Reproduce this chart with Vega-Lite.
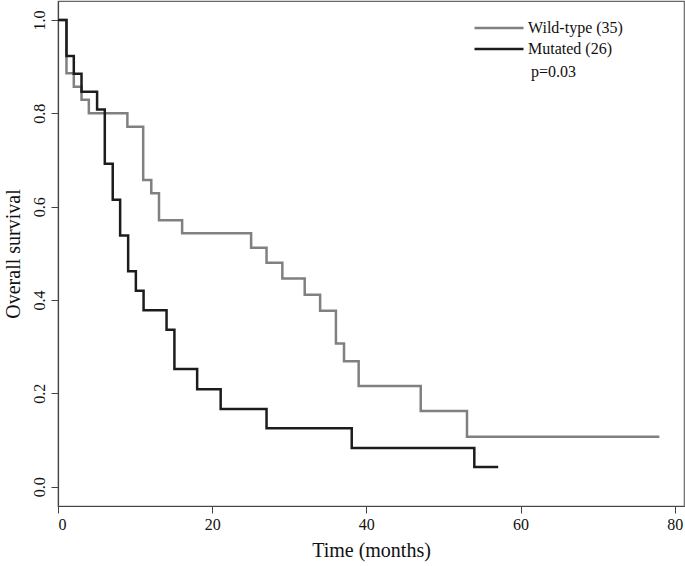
{
  "$schema": "https://vega.github.io/schema/vega-lite/v6.json",
  "autosize": {"type": "none"},
  "padding": {"left": 58, "top": 1, "right": 1, "bottom": 60},
  "width": 626,
  "height": 505,
  "background": "white",
  "config": {
    "view": {"stroke": "#666666", "strokeWidth": 1.2},
    "font": "Liberation Serif",
    "axis": {
      "grid": false,
      "domainColor": "#444444",
      "domainWidth": 1.2,
      "tickColor": "#444444",
      "tickSize": 7,
      "labelFont": "Liberation Serif",
      "labelFontSize": 16,
      "labelColor": "#111111",
      "titleFont": "Liberation Serif",
      "titleFontSize": 20,
      "titleFontWeight": "normal",
      "titleColor": "#111111"
    }
  },
  "data": {
    "values": [
      {"group": "Wild-type (35)", "month": 0, "surv": 1.0},
      {"group": "Wild-type (35)", "month": 1.1, "surv": 0.886},
      {"group": "Wild-type (35)", "month": 2.05, "surv": 0.857},
      {"group": "Wild-type (35)", "month": 3.05, "surv": 0.829},
      {"group": "Wild-type (35)", "month": 4.0, "surv": 0.8},
      {"group": "Wild-type (35)", "month": 9.0, "surv": 0.771},
      {"group": "Wild-type (35)", "month": 11.05, "surv": 0.657},
      {"group": "Wild-type (35)", "month": 12.1, "surv": 0.629},
      {"group": "Wild-type (35)", "month": 13.1, "surv": 0.571},
      {"group": "Wild-type (35)", "month": 16.1, "surv": 0.543},
      {"group": "Wild-type (35)", "month": 25.05, "surv": 0.512},
      {"group": "Wild-type (35)", "month": 27.05, "surv": 0.48},
      {"group": "Wild-type (35)", "month": 29.1, "surv": 0.446},
      {"group": "Wild-type (35)", "month": 32.0, "surv": 0.411},
      {"group": "Wild-type (35)", "month": 34.0, "surv": 0.377},
      {"group": "Wild-type (35)", "month": 36.05, "surv": 0.307},
      {"group": "Wild-type (35)", "month": 37.1, "surv": 0.269},
      {"group": "Wild-type (35)", "month": 39.0, "surv": 0.216},
      {"group": "Wild-type (35)", "month": 47.05, "surv": 0.162},
      {"group": "Wild-type (35)", "month": 53.05, "surv": 0.107},
      {"group": "Wild-type (35)", "month": 78.0, "surv": 0.107},
      {"group": "Mutated (26)", "month": 0, "surv": 1.0},
      {"group": "Mutated (26)", "month": 1.1, "surv": 0.923},
      {"group": "Mutated (26)", "month": 2.05, "surv": 0.885},
      {"group": "Mutated (26)", "month": 3.05, "surv": 0.846},
      {"group": "Mutated (26)", "month": 5.07, "surv": 0.808},
      {"group": "Mutated (26)", "month": 6.07, "surv": 0.692},
      {"group": "Mutated (26)", "month": 7.1, "surv": 0.615},
      {"group": "Mutated (26)", "month": 8.06, "surv": 0.538},
      {"group": "Mutated (26)", "month": 9.1, "surv": 0.4615},
      {"group": "Mutated (26)", "month": 10.1, "surv": 0.42},
      {"group": "Mutated (26)", "month": 11.1, "surv": 0.378},
      {"group": "Mutated (26)", "month": 14.08, "surv": 0.336},
      {"group": "Mutated (26)", "month": 15.1, "surv": 0.252},
      {"group": "Mutated (26)", "month": 18.05, "surv": 0.209},
      {"group": "Mutated (26)", "month": 21.1, "surv": 0.1665},
      {"group": "Mutated (26)", "month": 27.05, "surv": 0.125},
      {"group": "Mutated (26)", "month": 38.1, "surv": 0.083},
      {"group": "Mutated (26)", "month": 54.0, "surv": 0.042},
      {"group": "Mutated (26)", "month": 57.1, "surv": 0.042}
    ]
  },
  "layer": [
    {
      "mark": {"type": "line", "interpolate": "step-after", "strokeWidth": 2.5, "clip": true},
      "encoding": {
        "x": {
          "field": "month", "type": "quantitative",
          "scale": {"domain": [0, 81.2], "nice": false, "zero": false},
          "axis": {"values": [0, 20, 40, 60, 80], "format": "d", "labelPadding": 3, "title": "Time (months)", "titlePadding": 8}
        },
        "y": {
          "field": "surv", "type": "quantitative",
          "scale": {"domain": [-0.0414, 1.0407], "nice": false, "zero": false},
          "axis": {"values": [0, 0.2, 0.4, 0.6, 0.8, 1.0], "format": ".1f", "labelAngle": -90, "labelAlign": "center", "labelBaseline": "bottom", "labelPadding": 4, "title": "Overall survival", "titlePadding": 8}
        },
        "color": {
          "field": "group", "type": "nominal",
          "scale": {"domain": ["Wild-type (35)", "Mutated (26)"], "range": ["#808080", "#1c1c1c"]},
          "legend": {
            "title": null,
            "orient": "none",
            "legendX": 433,
            "legendY": 19,
            "symbolType": "M-5,0L5,0",
            "symbolSize": 96,
            "symbolStrokeWidth": 2.5,
            "labelOffset": 21,
            "labelFont": "Liberation Serif",
            "labelFontSize": 16,
            "labelColor": "#111111",
            "rowPadding": 5,
            "padding": 0
          }
        }
      }
    },
    {
      "data": {"values": [{"label": "p=0.03", "month": 61.35, "surv": 0.889}]},
      "mark": {"type": "text", "align": "left", "baseline": "middle", "font": "Liberation Serif", "fontSize": 16, "color": "#111111"},
      "encoding": {
        "x": {"field": "month", "type": "quantitative"},
        "y": {"field": "surv", "type": "quantitative"},
        "text": {"field": "label"}
      }
    }
  ]
}
